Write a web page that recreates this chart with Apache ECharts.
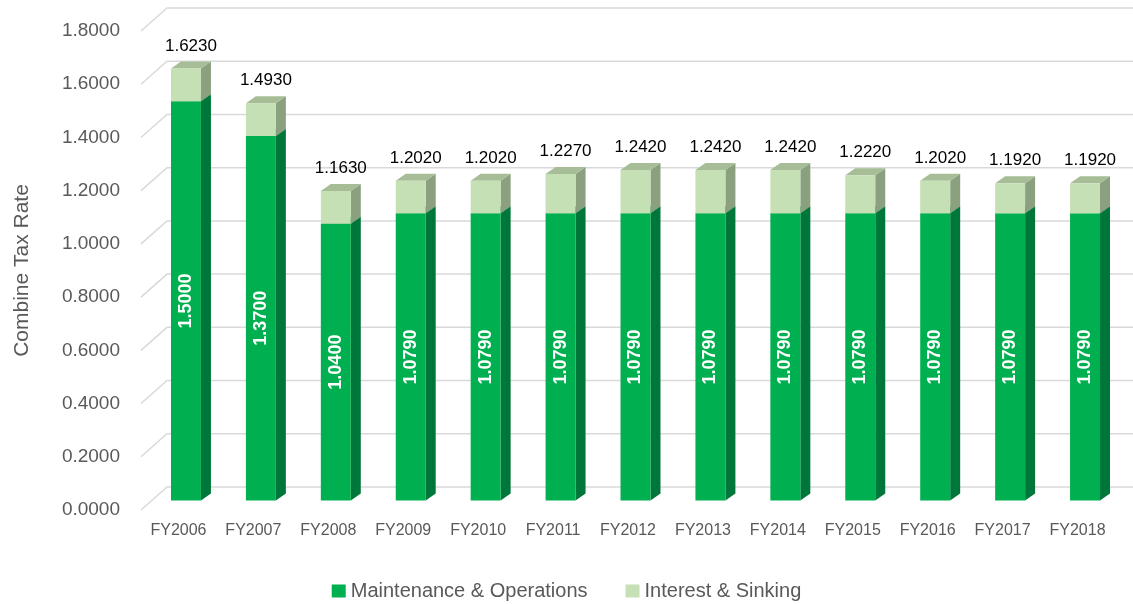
<!DOCTYPE html>
<html lang="en">
<head>
<meta charset="UTF-8">
<title>Combine Tax Rate</title>
<script src="https://cdn.jsdelivr.net/npm/echarts@6/dist/echarts.min.js"></script>
<style>
    html, body { margin: 0; padding: 0; background: #fff; }
    #main { width: 1133px; height: 604px; }
</style>
</head>
<body>
<div id="main"></div>
<script type="text/javascript">
    // data
    var years = ['FY2006', 'FY2007', 'FY2008', 'FY2009', 'FY2010', 'FY2011', 'FY2012',
                 'FY2013', 'FY2014', 'FY2015', 'FY2016', 'FY2017', 'FY2018'];
    var maintOps = [1.5000, 1.3700, 1.0400, 1.0790, 1.0790, 1.0790, 1.0790,
                    1.0790, 1.0790, 1.0790, 1.0790, 1.0790, 1.0790];
    var interestSinking = [0.1230, 0.1230, 0.1230, 0.1230, 0.1230, 0.1480, 0.1630,
                           0.1630, 0.1630, 0.1430, 0.1230, 0.1130, 0.1130];
    var yTicks = [0, 0.2, 0.4, 0.6, 0.8, 1.0, 1.2, 1.4, 1.6, 1.8];

    var FONT = 'Liberation Sans';
    // pseudo 3d offsets
    var BAR_DX = 10, BAR_DY = 7;      // bar depth
    var SHIFT_X = 7.5, SHIFT_Y = -9.5; // bars sit a bit behind the front plane
    var WALL_DX = 26, WALL_DY = 23;    // back wall

    function barRender(colors, withInside, withTop) {
        return function (params, api) {
            var i = api.value(0);
            var lo = api.coord([i, api.value(1)]);
            var hi = api.coord([i, api.value(2)]);
            var w = api.size([1, 0])[0] * 0.4;
            var x0 = lo[0] + SHIFT_X - w / 2, x1 = x0 + w;
            var yb = lo[1] + SHIFT_Y, yt = hi[1] + SHIFT_Y;
            var kids = [
                {type: 'polygon', shape: {points: [[x1, yb], [x1 + BAR_DX, yb - BAR_DY], [x1 + BAR_DX, yt - BAR_DY], [x1, yt]]},
                    style: {fill: colors.side}},
                {type: 'polygon', shape: {points: [[x0, yt], [x0 + BAR_DX, yt - BAR_DY], [x1 + BAR_DX, yt - BAR_DY], [x1, yt]]},
                    style: {fill: colors.top}},
                {type: 'rect', shape: {x: x0, y: yt, width: w, height: yb - yt},
                    style: {fill: colors.front}}
            ];
            if (withInside) {
                kids.push({
                    type: 'text', x: (x0 + x1) / 2, y: (yt + yb) / 2, rotation: Math.PI / 2,
                    style: {text: (api.value(2) - api.value(1)).toFixed(4), fill: '#fff',
                        fontFamily: FONT, fontSize: 18, fontWeight: 'bold', align: 'center', verticalAlign: 'middle'}
                });
            }
            if (withTop) {
                kids.push({
                    type: 'text', x: (x0 + x1) / 2 + 5, y: yt - 14,
                    style: {text: api.value(2).toFixed(4), fill: '#000',
                        fontFamily: FONT, fontSize: 17, align: 'center', verticalAlign: 'bottom'}
                });
            }
            return {type: 'group', children: kids};
        };
    }

    var moData = [], isData = [];
    for (var i = 0; i < years.length; i++) {
        moData.push([i, 0, maintOps[i]]);
        isData.push([i, maintOps[i], maintOps[i] + interestSinking[i]]);
    }

    var myChart = echarts.init(document.getElementById('main'));
    myChart.setOption({
        animation: false,
        textStyle: {fontFamily: FONT},
        grid: {left: 141, right: 18, top: 31, bottom: 94},
        legend: {
            data: ['Maintenance & Operations', 'Interest & Sinking'],
            bottom: -2,
            left: 'center',
            icon: 'rect',
            itemWidth: 14,
            itemHeight: 13,
            itemGap: 38,
            textStyle: {fontFamily: FONT, fontSize: 20, color: '#595959'}
        },
        xAxis: {
            type: 'category',
            data: years,
            axisLine: {show: false},
            axisTick: {show: false},
            axisLabel: {fontSize: 16, color: '#595959', margin: 13, interval: 0}
        },
        yAxis: {
            type: 'value',
            min: 0,
            max: 1.8,
            interval: 0.2,
            name: 'Combine Tax Rate',
            nameLocation: 'middle',
            nameGap: 108,
            nameTextStyle: {fontSize: 21, color: '#595959'},
            axisLine: {show: false},
            axisTick: {show: false},
            splitLine: {show: false},
            axisLabel: {
                fontSize: 19, color: '#595959', margin: 21,
                formatter: function (v) { return v.toFixed(4); }
            }
        },
        series: [
            {
                name: 'wall',
                type: 'custom',
                z: 1,
                silent: true,
                data: yTicks.map(function (v) { return [0, v]; }),
                encode: {x: 0, y: 1},
                renderItem: function (params, api) {
                    var y = api.coord([0, api.value(1)])[1];
                    var x = params.coordSys.x;
                    return {
                        type: 'polyline',
                        shape: {points: [[x, y], [x + WALL_DX, y - WALL_DY], [api.getWidth(), y - WALL_DY]]},
                        style: {stroke: '#D9D9D9', lineWidth: 1.5, fill: null}
                    };
                }
            },
            {
                name: 'Maintenance & Operations',
                type: 'custom',
                z: 2,
                itemStyle: {color: '#00B050'},
                data: moData,
                encode: {x: 0, y: [1, 2]},
                renderItem: barRender({front: '#00B050', side: '#00773A', top: '#008A40'}, true, false)
            },
            {
                name: 'Interest & Sinking',
                type: 'custom',
                z: 3,
                itemStyle: {color: '#C5E0B4'},
                data: isData,
                encode: {x: 0, y: [1, 2]},
                renderItem: barRender({front: '#C5E0B4', side: '#8AA07E', top: '#A6BD98'}, false, true)
            }
        ]
    });
</script>
</body>
</html>
